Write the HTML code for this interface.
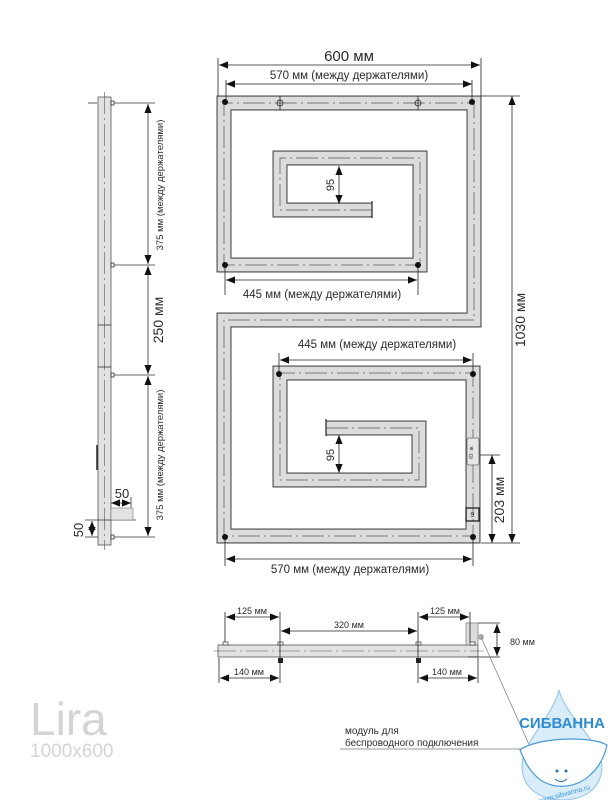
<!DOCTYPE html>
<html><head><meta charset="utf-8"><style>
html,body{margin:0;padding:0;background:#fff;width:612px;height:800px;overflow:hidden}
svg{display:block}
text{font-family:"Liberation Sans",sans-serif;fill:#2a2a2a}
</style></head><body>
<svg width="612" height="800" viewBox="0 0 612 800" xmlns="http://www.w3.org/2000/svg">
<defs>
<marker id="a" viewBox="0 0 10 10" refX="10" refY="5" markerWidth="9" markerHeight="9" orient="auto-start-reverse" markerUnits="userSpaceOnUse"><path d="M0,1 L10,5 L0,9 z" fill="#111"/></marker>
</defs>

<g fill="none" stroke-linejoin="miter" stroke-miterlimit="4">
<path d="M372,210 L280,210 L280,158 L420,158 L420,265 L224,265 L224,103 L474,103 L474,320 L224,320 L224,536 L473,536 L473,373 L280,373 L280,480 L419,480 L419,428 L326,428" stroke="#4a4a4a" stroke-width="15"/>
<path d="M372,210 L280,210 L280,158 L420,158 L420,265 L224,265 L224,103 L474,103 L474,320 L224,320 L224,536 L473,536 L473,373 L280,373 L280,480 L419,480 L419,428 L326,428" stroke="#dcdcdc" stroke-width="12.8"/>
<path d="M372,210 L280,210 L280,158 L420,158 L420,265 L224,265 L224,103 L474,103 L474,320 L224,320 L224,536 L473,536 L473,373 L280,373 L280,480 L419,480 L419,428 L326,428" stroke="#555" stroke-width="0.7" stroke-dasharray="22,4,2,4"/>
</g>
<line x1="372" y1="201" x2="372" y2="218" stroke="#222" stroke-width="1.2"/>
<line x1="326" y1="419" x2="326" y2="436" stroke="#222" stroke-width="1.2"/>

<g fill="#111">
<circle cx="225" cy="102" r="3"/><circle cx="472" cy="102" r="3"/>
<circle cx="225" cy="265" r="3"/><circle cx="418" cy="265" r="3"/>
<circle cx="279" cy="374" r="3"/><circle cx="473" cy="374" r="3"/>
<circle cx="225" cy="537" r="3"/><circle cx="473" cy="537" r="3"/>
</g>
<g fill="none" stroke="#222" stroke-width="0.8">
<circle cx="280" cy="103" r="3"/><line x1="280" y1="96" x2="280" y2="110"/>
<circle cx="418" cy="103" r="3"/><line x1="418" y1="96" x2="418" y2="110"/>
</g>
<rect x="467" y="438" width="12" height="27" rx="2" fill="#e6e6e6" stroke="#666" stroke-width="0.8"/>
<text x="473" y="452" font-size="5" text-anchor="middle" transform="rotate(-90 473 452)">IO: ⊕:</text>
<rect x="466" y="508" width="13" height="13" fill="none" stroke="#111" stroke-width="1.2"/>
<text x="472.5" y="517" font-size="7" text-anchor="middle">9</text>

<g stroke="#222" stroke-width="0.8" fill="none">
<line x1="218" y1="58" x2="218" y2="96"/><line x1="481" y1="58" x2="481" y2="96"/>
<line x1="226" y1="80" x2="226" y2="100"/><line x1="472" y1="80" x2="472" y2="100"/>
<line x1="219" y1="65" x2="480" y2="65" marker-start="url(#a)" marker-end="url(#a)"/>
<line x1="226" y1="84" x2="472" y2="84" marker-start="url(#a)" marker-end="url(#a)"/>
<line x1="481" y1="96" x2="520" y2="96"/><line x1="481" y1="543" x2="520" y2="543"/>
<line x1="512" y1="96" x2="512" y2="543" marker-start="url(#a)" marker-end="url(#a)"/>
<line x1="480" y1="455" x2="500" y2="455"/>
<line x1="492" y1="455" x2="492" y2="543" marker-start="url(#a)" marker-end="url(#a)"/>
<line x1="225" y1="268" x2="225" y2="295"/><line x1="418" y1="268" x2="418" y2="295"/>
<line x1="226" y1="280" x2="417" y2="280" marker-start="url(#a)" marker-end="url(#a)"/>
<line x1="279" y1="353" x2="279" y2="372"/><line x1="473" y1="353" x2="473" y2="372"/>
<line x1="280" y1="360" x2="472" y2="360" marker-start="url(#a)" marker-end="url(#a)"/>
<line x1="225" y1="540" x2="225" y2="566"/><line x1="473" y1="540" x2="473" y2="566"/>
<line x1="226" y1="559" x2="472" y2="559" marker-start="url(#a)" marker-end="url(#a)"/>
<line x1="339" y1="166" x2="339" y2="204" marker-start="url(#a)" marker-end="url(#a)"/>
<line x1="339" y1="435" x2="339" y2="473" marker-start="url(#a)" marker-end="url(#a)"/>
</g>
<text x="349" y="61" font-size="15" text-anchor="middle">600 мм</text>
<text x="349" y="79" font-size="11.5" text-anchor="middle">570 мм (между держателями)</text>
<text x="322" y="298" font-size="11.5" text-anchor="middle">445 мм (между держателями)</text>
<text x="377" y="348" font-size="11.5" text-anchor="middle">445 мм (между держателями)</text>
<text x="350" y="573" font-size="11.5" text-anchor="middle">570 мм (между держателями)</text>
<text x="0" y="0" font-size="14" text-anchor="middle" transform="translate(525,320) rotate(-90)">1030 мм</text>
<text x="0" y="0" font-size="14" text-anchor="middle" transform="translate(504,500) rotate(-90)">203 мм</text>
<text x="0" y="0" font-size="11" text-anchor="middle" transform="translate(334,185) rotate(-90)">95</text>
<text x="0" y="0" font-size="11" text-anchor="middle" transform="translate(334,455) rotate(-90)">95</text>

<rect x="98" y="97" width="13" height="448" fill="#e2e2e2" stroke="#555" stroke-width="0.8"/>
<line x1="104.5" y1="92" x2="104.5" y2="550" stroke="#555" stroke-width="0.6" stroke-dasharray="22,4,2,4"/>
<g stroke="#333" stroke-width="0.8" fill="none">
<line x1="98" y1="325" x2="111" y2="325"/><line x1="98" y1="367" x2="111" y2="367"/>
<line x1="88" y1="103" x2="97" y2="103"/>
<rect x="111" y="101" width="3" height="4"/><rect x="111" y="263" width="3" height="4"/>
<rect x="111" y="373" width="3" height="4"/><rect x="111" y="535" width="3" height="4"/>
<line x1="114" y1="103" x2="155" y2="103"/><line x1="114" y1="265" x2="155" y2="265"/>
<line x1="114" y1="375" x2="155" y2="375"/><line x1="114" y1="537" x2="155" y2="537"/>
<line x1="148" y1="104" x2="148" y2="264" marker-start="url(#a)" marker-end="url(#a)"/>
<line x1="148" y1="266" x2="148" y2="374" marker-start="url(#a)" marker-end="url(#a)"/>
<line x1="148" y1="376" x2="148" y2="536" marker-start="url(#a)" marker-end="url(#a)"/>
<line x1="85" y1="520" x2="136" y2="520"/>
<line x1="85" y1="537" x2="98" y2="537"/>
<line x1="92" y1="521" x2="92" y2="536" marker-start="url(#a)" marker-end="url(#a)"/>
<line x1="111" y1="503" x2="131" y2="503" marker-start="url(#a)" marker-end="url(#a)"/>
<line x1="131" y1="497" x2="131" y2="508"/>
</g>
<rect x="111" y="508" width="22" height="12" fill="#e2e2e2" stroke="#777" stroke-width="0.6"/>
<line x1="97" y1="445" x2="97" y2="470" stroke="#222" stroke-width="1.5"/>
<text x="0" y="0" font-size="9.5" text-anchor="middle" transform="translate(163,185) rotate(-90)">375 мм (между держателями)</text>
<text x="0" y="0" font-size="14" text-anchor="middle" transform="translate(163,320) rotate(-90)">250 мм</text>
<text x="0" y="0" font-size="9.5" text-anchor="middle" transform="translate(163,455) rotate(-90)">375 мм (между держателями)</text>
<text x="122" y="498" font-size="13" text-anchor="middle">50</text>
<text x="0" y="0" font-size="13" text-anchor="middle" transform="translate(83,530) rotate(-90)">50</text>

<rect x="218" y="645" width="260" height="12" fill="#e2e2e2" stroke="#555" stroke-width="0.8"/>
<rect x="466" y="623" width="12" height="22" fill="#dcdcdc" stroke="#666" stroke-width="0.6"/>
<line x1="214" y1="651" x2="484" y2="651" stroke="#555" stroke-width="0.6" stroke-dasharray="22,4,2,4"/>
<line x1="468" y1="657" x2="484" y2="657" stroke="#222" stroke-width="0.8"/>
<g fill="#fff" stroke="#333" stroke-width="0.7">
<rect x="223" y="642" width="5" height="3"/><rect x="278" y="642" width="5" height="3"/>
<rect x="416" y="642" width="5" height="3"/><rect x="470" y="642" width="5" height="3"/>
</g>
<rect x="278" y="658" width="5" height="5" fill="#222"/><rect x="416" y="658" width="5" height="5" fill="#222"/>
<g stroke="#222" stroke-width="0.8" fill="none">
<line x1="225" y1="612" x2="225" y2="642"/><line x1="280" y1="612" x2="280" y2="683"/>
<line x1="418" y1="612" x2="418" y2="683"/><line x1="470" y1="612" x2="470" y2="642"/>
<line x1="219" y1="658" x2="219" y2="683"/><line x1="478" y1="658" x2="478" y2="683"/>
<line x1="226" y1="617" x2="279" y2="617" marker-start="url(#a)" marker-end="url(#a)"/>
<line x1="419" y1="617" x2="469" y2="617" marker-start="url(#a)" marker-end="url(#a)"/>
<line x1="281" y1="631" x2="417" y2="631" marker-start="url(#a)" marker-end="url(#a)"/>
<line x1="220" y1="678" x2="279" y2="678" marker-start="url(#a)" marker-end="url(#a)"/>
<line x1="419" y1="678" x2="477" y2="678" marker-start="url(#a)" marker-end="url(#a)"/>
<line x1="478" y1="623" x2="500" y2="623"/><line x1="484" y1="657" x2="500" y2="657"/>
<line x1="497" y1="624" x2="497" y2="656" marker-start="url(#a)" marker-end="url(#a)"/>
</g>
<text x="252" y="614" font-size="9" text-anchor="middle">125 мм</text>
<text x="445" y="614" font-size="9" text-anchor="middle">125 мм</text>
<text x="349" y="628" font-size="9" text-anchor="middle">320 мм</text>
<text x="249" y="675" font-size="9" text-anchor="middle">140 мм</text>
<text x="447" y="675" font-size="9" text-anchor="middle">140 мм</text>
<text x="510" y="645" font-size="9">80 мм</text>
<circle cx="481" cy="637" r="3" fill="#aaa"/>
<line x1="481" y1="637" x2="531" y2="749" stroke="#777" stroke-width="0.7"/>
<line x1="340" y1="749" x2="531" y2="749" stroke="#777" stroke-width="0.7"/>
<text x="345" y="734" font-size="10">модуль для</text>
<text x="345" y="746" font-size="10">беспроводного подключения</text>

<text x="30" y="735" font-size="46" style="fill:#d4d4d4">Lira</text>
<text x="30" y="757" font-size="19" style="fill:#d4d4d4">1000x600</text>

<path d="M559,690 C552,718 522,742 522,766 C522,788 540,800 562,800 C585,800 602,788 602,766 C602,742 566,718 559,690 Z" fill="#d8ecfa" stroke="#8fc3ea" stroke-width="1"/>
<path d="M520,750 C535,738 590,735 607,745 C604,760 596,770 590,775 C575,790 548,790 535,775 C528,768 524,760 520,750 Z" fill="#fff" stroke="#4a9ad8" stroke-width="1.2"/>
<circle cx="557" cy="771" r="1.5" fill="#2b6fb0"/><circle cx="566" cy="771" r="1.5" fill="#2b6fb0"/>
<path d="M555,779 Q561,784 567,779" fill="none" stroke="#2b6fb0" stroke-width="1"/>
<text x="562" y="728" font-size="15" font-weight="bold" text-anchor="middle" style="fill:#2f8bd0">СИБВАННА</text>
<text x="565" y="796" font-size="7" text-anchor="middle" transform="rotate(-15 565 796)" style="fill:#3a9ae0">www.sibvanna.ru</text>
</svg>
</body></html>
